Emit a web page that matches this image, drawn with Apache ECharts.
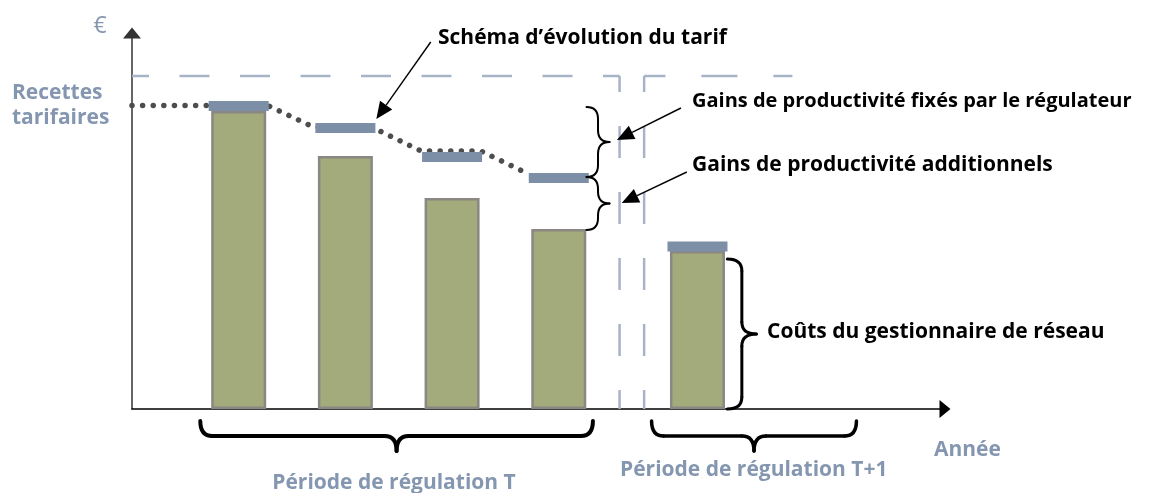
<!DOCTYPE html>
<html>
<head>
<meta charset="utf-8">
<script src="https://cdn.jsdelivr.net/npm/echarts@6/dist/echarts.min.js"></script>
<style>
  html, body { margin: 0; padding: 0; background: #fff; }
  #chart { width: 1158px; height: 493px; }
</style>
</head>
<body>
<div id="chart"></div>
<script>
// years along the x axis (4 years of period T, 1 year of period T+1)
var yearPos = [1, 2, 3, 4, 5.3];
// operator costs (bar heights) and tariff revenue (markers)
var costs = [74.5, 63.25, 52.75, 45, 39.5];
var tariff = [75.75, 70.25, 63, 57.75, 40.6];
// dotted tariff evolution path
var tariffPath = [[0, 75.9], [1.27, 75.9], [1.70, 70.5], [2.26, 70.3], [2.71, 64.5], [3.27, 64.5], [3.72, 58.7]];
// dashed ceiling lines around the period boundary
var ceilingLeft = [[0, 83.25], [4.57, 83.25]];
var dropLeft = [[4.57, 83.25], [4.57, 0]];
var dropRight = [[4.8, 83.25], [4.8, 0]];
var ceilingRight = [[6.19, 83.25], [4.8, 83.25]];
// braces: [x1, y1, x2, y2]
var braces = [
  [0.64, -3, 4.32, -3],
  [4.87, -3, 6.79, -3],
  [5.58, 0, 5.58, 37.5],
  [4.26, 58, 4.26, 75.5],
  [4.26, 44.75, 4.26, 58]
];
// arrows: [x from, y from, x to, y to]
var arrows = [
  [2.80, 91.75, 2.29, 72.5],
  [5.145, 75.25, 4.545, 67.25],
  [5.20, 59.25, 4.59, 51.5]
];
var braceStyle = [
  {depth: 30, width: 4},
  {depth: 30, width: 3.5},
  {depth: 29, width: 3},
  {depth: 23, width: 2},
  {depth: 23, width: 2}
];

var slate = '#8496B0';
var dashColor = '#A7B3C7';
var font = '"Open Sans"';

function renderBrace(params, api) {
  var a = api.coord([api.value(0), api.value(1)]);
  var b = api.coord([api.value(2), api.value(3)]);
  var st = braceStyle[params.dataIndex];
  var d = st.depth;
  var dx = b[0] - a[0], dy = b[1] - a[1];
  var L = Math.sqrt(dx * dx + dy * dy);
  var ux = dx / L, uy = dy / L, nx = -uy, ny = ux;
  function P(s, t) { return [a[0] + ux * s + nx * t, a[1] + uy * s + ny * t]; }
  var h = d / 2, r = Math.min(12, L / 4), m = L / 2;
  var style = {stroke: '#000', fill: null, lineWidth: st.width, lineCap: 'round'};
  var curves = [
    [P(0, 0), P(0, h), P(r, h)],
    [P(m - r, h), P(m, h), P(m, d)],
    [P(m, d), P(m, h), P(m + r, h)],
    [P(L - r, h), P(L, h), P(L, 0)]
  ];
  var children = curves.map(function (c) {
    return {type: 'bezierCurve', shape: {x1: c[0][0], y1: c[0][1], cpx1: c[1][0], cpy1: c[1][1], x2: c[2][0], y2: c[2][1]}, style: style};
  });
  var l1 = [P(r, h), P(m - r, h)], l2 = [P(m + r, h), P(L - r, h)];
  [l1, l2].forEach(function (l) {
    children.push({type: 'line', shape: {x1: l[0][0], y1: l[0][1], x2: l[1][0], y2: l[1][1]}, style: style});
  });
  return {type: 'group', children: children};
}

function renderArrow(params, api) {
  var a = api.coord([api.value(0), api.value(1)]);
  var b = api.coord([api.value(2), api.value(3)]);
  var dx = b[0] - a[0], dy = b[1] - a[1];
  var L = Math.sqrt(dx * dx + dy * dy), ux = dx / L, uy = dy / L;
  var hl = 17, hw = 7.5;
  var base = [b[0] - ux * hl, b[1] - uy * hl];
  return {type: 'group', children: [
    {type: 'line', shape: {x1: a[0], y1: a[1], x2: base[0], y2: base[1]}, style: {stroke: '#000', lineWidth: 1.4}},
    {type: 'polygon', shape: {points: [b, [base[0] - uy * hw, base[1] + ux * hw], [base[0] + uy * hw, base[1] - ux * hw]]}, style: {fill: '#000'}}
  ]};
}

function txt(text, x, y, size, color, weight, align) {
  return {type: 'text', x: x, y: y, z: 100, style: {
    text: text, fill: color, font: (weight || 'bold') + ' ' + size + 'px ' + font,
    align: align || 'left', verticalAlign: 'middle'
  }};
}

function dashed(data, dash, offset) {
  return {type: 'line', data: data, symbol: 'none', z: 1,
    lineStyle: {color: dashColor, width: 2.5, type: dash, dashOffset: offset}};
}

var chart = echarts.init(document.getElementById('chart'));
chart.setOption({
  animation: false,
  grid: {left: 132, right: 213, top: 33, bottom: 84},
  xAxis: {
    type: 'value', min: 0, max: 7.62,
    axisLine: {onZero: false, lineStyle: {color: '#000', width: 1.5}, symbol: ['none', 'triangle'], symbolSize: [18, 11]},
    axisTick: {show: false}, axisLabel: {show: false}, splitLine: {show: false}
  },
  yAxis: {
    type: 'value', min: 0, max: 94,
    axisLine: {show: true, lineStyle: {color: '#333', width: 1.5}, symbol: ['none', 'triangle'], symbolSize: [18, 11]},
    axisTick: {show: false}, axisLabel: {show: false}, splitLine: {show: false}
  },
  graphic: [
    txt('€', 100, 26, 23, slate, 'normal', 'center'),
    txt('Recettes', 12, 93, 21, slate),
    txt('tarifaires', 12, 118, 21, slate),
    txt('Schéma d’évolution du tarif', 438, 38, 21, '#000'),
    txt('Gains de productivité fixés par le régulateur', 692, 101, 20, '#000'),
    txt('Gains de productivité additionnels', 692, 165, 21, '#000'),
    txt('Coûts du gestionnaire de réseau', 767, 332, 21, '#000'),
    txt('Année', 934, 450, 21, slate),
    txt('Période de régulation T', 394, 483, 21, slate, 'bold', 'center'),
    txt('Période de régulation T+1', 620, 470, 21, slate)
  ],
  series: [
    dashed(ceilingLeft, [30, 30.5], 13),
    dashed(dropLeft, [32, 34], 16),
    dashed(dropRight, [32, 34], 16),
    dashed(ceilingRight, [36, 36], 17),
    {type: 'line', data: tariffPath, symbol: 'none', z: 2,
      lineStyle: {color: '#4D4D4D', width: 5.5, type: [0.01, 10.6], cap: 'round'}},
    {type: 'bar', data: yearPos.map(function (x, i) { return [x, costs[i]]; }), barWidth: 55, z: 3,
      itemStyle: {color: '#A3AA7B', borderColor: '#8B8884', borderWidth: 2.5}},
    {type: 'scatter', data: yearPos.map(function (x, i) { return [x, tariff[i]]; }), z: 4,
      symbol: 'rect', symbolSize: [60, 10], itemStyle: {color: '#7C8FA6', opacity: 1}},
    {type: 'custom', data: braces, renderItem: renderBrace, z: 5, encode: {x: [0, 2], y: [1, 3]}},
    {type: 'custom', data: arrows, renderItem: renderArrow, z: 5, encode: {x: [0, 2], y: [1, 3]}}
  ]
});
</script>
</body>
</html>
